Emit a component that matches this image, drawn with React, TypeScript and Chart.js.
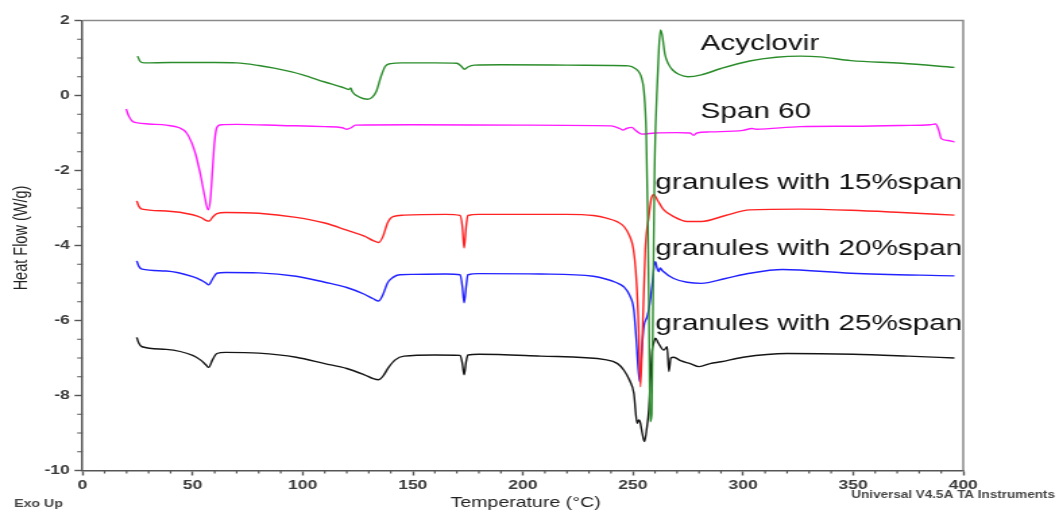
import React, { useEffect, useRef } from 'react';
import { Chart, registerables } from 'chart.js';

Chart.register(...registerables);

// ---------- data (temperature °C, heat flow W/g) ----------
const acyclovirT = [25, 26, 28, 40, 60, 70, 80, 87, 95, 100, 110, 118, 121, 121.8, 122.5, 126, 129.5, 131.5, 133.5, 135.5, 137.5, 140, 145, 160, 170, 172, 173.5, 175, 178, 190, 220, 240, 248, 251, 253, 254, 255, 256, 256.8, 257.3, 257.8, 258.5, 259.2, 259.8, 260.8, 261.8, 262.5, 263.3, 264.5, 266, 268, 271, 275, 281, 290, 303, 315, 326, 335, 349, 372, 396];
const acyclovirH = [1.05, 0.92, 0.87, 0.88, 0.88, 0.87, 0.8, 0.73, 0.63, 0.55, 0.36, 0.22, 0.16, 0.2, 0.1, -0.05, -0.1, -0.05, 0.12, 0.5, 0.78, 0.85, 0.87, 0.87, 0.86, 0.78, 0.7, 0.76, 0.81, 0.82, 0.81, 0.8, 0.79, 0.72, 0.6, 0.45, 0.1, -1.0, -3.5, -6.0, -8.7, -8.5, -5.0, -2.0, 0.0, 1.3, 1.75, 1.6, 1.1, 0.85, 0.68, 0.56, 0.5, 0.55, 0.72, 0.92, 1.02, 1.05, 1.03, 0.93, 0.86, 0.75];

const span60T = [19.8, 21, 22.5, 25, 30, 38, 44, 47, 49.5, 51.5, 53.5, 55.5, 57, 58, 59, 60, 61, 63, 70, 90, 110, 118, 120, 122, 124, 150, 200, 240, 244, 245.5, 247, 249.5, 251, 254, 260, 270, 276, 277.5, 279, 285, 300, 304, 306, 326, 350, 372, 385, 387.5, 389, 390, 393, 396];
const span60H = [-0.36, -0.55, -0.68, -0.73, -0.76, -0.79, -0.86, -0.98, -1.25, -1.6, -2.1, -2.7, -3.05, -2.8, -2.0, -1.2, -0.85, -0.78, -0.77, -0.8, -0.83, -0.86, -0.9, -0.86, -0.79, -0.78, -0.79, -0.81, -0.88, -0.92, -0.88, -0.85, -0.92, -1.03, -1.0, -0.99, -1.0, -1.06, -1.0, -0.97, -0.93, -0.88, -0.9, -0.83, -0.82, -0.8, -0.78, -0.76, -0.95, -1.15, -1.2, -1.24];

const span15T = [24.6, 25.5, 27, 38, 50, 54, 56, 57.5, 59, 61, 65, 80, 97, 110, 120, 128, 132, 134.5, 136.5, 138.5, 141, 146, 165, 171.5, 172.5, 173.3, 174.2, 175, 180, 220, 232, 238, 243, 246, 248.5, 250.2, 251.3, 252.3, 253.4, 254.5, 255.6, 257.2, 258.3, 259.5, 261, 264, 268.5, 274.6, 281, 292, 303, 326, 349, 372, 396];
const span15H = [-2.81, -2.95, -3.03, -3.08, -3.18, -3.26, -3.33, -3.35, -3.25, -3.15, -3.12, -3.14, -3.25, -3.4, -3.59, -3.75, -3.87, -3.92, -3.75, -3.4, -3.23, -3.19, -3.17, -3.2, -3.5, -4.07, -3.5, -3.2, -3.17, -3.17, -3.2, -3.27, -3.37, -3.5, -3.75, -4.1, -4.7, -5.8, -7.77, -6.0, -4.1, -3.23, -2.75, -2.64, -2.78, -3.05, -3.23, -3.36, -3.36, -3.2, -3.05, -3.03, -3.06, -3.12, -3.19];

const span20T = [24.6, 25.5, 27, 38, 50, 54, 56, 57.3, 59, 61, 65, 80, 97, 110, 120, 128, 132, 134.5, 136.5, 138.5, 141, 144, 150, 165, 171.5, 172.5, 173.3, 174.2, 175, 180, 208, 232, 238, 242, 245.8, 248.5, 250.4, 251.5, 253, 254, 254.9, 256.4, 257.5, 258.8, 259.7, 260.2, 260.9, 261.7, 262.3, 263.5, 268.5, 274.6, 281, 292, 303, 318, 349, 396];
const span20H = [-4.41, -4.55, -4.63, -4.68, -4.83, -4.93, -5.0, -5.05, -4.9, -4.74, -4.72, -4.73, -4.82, -4.98, -5.12, -5.3, -5.42, -5.48, -5.3, -5.0, -4.85, -4.78, -4.77, -4.76, -4.78, -5.1, -5.53, -5.1, -4.78, -4.75, -4.76, -4.82, -4.9, -4.98, -5.1, -5.33, -5.72, -6.5, -7.63, -6.8, -6.17, -5.9, -5.6, -5.0, -4.5, -4.43, -4.6, -4.7, -4.6, -4.68, -4.88, -4.98, -5.01, -4.88, -4.74, -4.64, -4.74, -4.81];

const span25T = [24.6, 25.5, 27, 38, 50, 53.5, 56, 57.3, 59, 61, 65, 80, 97, 110, 120, 128, 132, 134.5, 136.5, 139, 142, 146, 160, 171.5, 172.5, 173.3, 174.2, 175, 180, 208, 238, 243, 245.8, 248.5, 250.4, 251.9, 252.6, 253.2, 254.2, 255.2, 256.2, 257.2, 258, 258.7, 259.4, 260.2, 261.5, 264, 265.5, 266.3, 267.2, 268.5, 271.6, 276, 280, 285, 290, 300, 320, 350, 375, 396];
const span25H = [-6.45, -6.6, -6.7, -6.77, -6.93, -7.05, -7.18, -7.25, -7.05, -6.88, -6.85, -6.87, -6.98, -7.15, -7.28, -7.45, -7.55, -7.58, -7.48, -7.25, -7.05, -6.95, -6.92, -6.93, -7.15, -7.45, -7.1, -6.92, -6.9, -6.95, -7.05, -7.15, -7.32, -7.6, -7.94, -8.74, -8.65, -8.7, -9.0, -9.23, -8.9, -8.39, -7.5, -6.79, -6.6, -6.47, -6.6, -6.79, -6.7, -7.36, -7.0, -6.98, -7.07, -7.15, -7.23, -7.15, -7.1, -6.98, -6.88, -6.9, -6.95, -7.0];

const seriesNames = ['Acyclovir', 'Span 60', 'granules with 15%span', 'granules with 20%span', 'granules with 25%span'];
const seriesColors = ['#2a8c2a', '#ff1aff', '#ff2222', '#2222ff', '#151515'];

// annotation labels (data coordinates of left/baseline)
const labelTexts = ['Acyclovir', 'Span 60', 'granules with 15%span', 'granules with 20%span', 'granules with 25%span'];
const labelX = [280.7, 280.7, 260.2, 260.2, 260.2];
const labelY = [1.21, -0.61, -2.5, -4.25, -6.25];

const xMin = 0, xMax = 400, xStep = 50, xMinorStep = 10;
const yMin = -10, yMax = 2, yStep = 2, yMinorStep = 0.5;

const CANVAS_W = 785;
const CANVAS_H = 513;
const FONT = '"Liberation Sans", Arial, Helvetica, sans-serif';

function pts(t: number[], h: number[]) {
  return t.map((x, i) => ({ x, y: h[i] }));
}

const overlayPlugin = {
  id: 'dscOverlay',
  afterDraw(chart: any) {
    const { ctx, chartArea: a, scales } = chart;
    const xs = scales.x;
    const ys = scales.y;
    ctx.save();
    // frame top/right
    ctx.strokeStyle = '#8a8a8a';
    ctx.lineWidth = 1.5;
    ctx.beginPath();
    ctx.moveTo(a.left, a.top);
    ctx.lineTo(a.right, a.top);
    ctx.lineTo(a.right, a.bottom);
    ctx.stroke();
    // minor ticks
    ctx.strokeStyle = '#555';
    ctx.lineWidth = 1.2;
    ctx.beginPath();
    for (let v = yMin; v <= yMax + 1e-9; v += yMinorStep) {
      if (Math.abs(v / yStep - Math.round(v / yStep)) < 1e-6) continue;
      const p = ys.getPixelForValue(v);
      ctx.moveTo(a.left, p);
      ctx.lineTo(a.left - 4, p);
    }
    for (let v = xMin; v <= xMax + 1e-9; v += xMinorStep) {
      if (Math.abs(v / xStep - Math.round(v / xStep)) < 1e-6) continue;
      const p = xs.getPixelForValue(v);
      ctx.moveTo(p, a.bottom);
      ctx.lineTo(p, a.bottom + 3);
    }
    ctx.stroke();

    // curve annotations
    ctx.fillStyle = '#111';
    ctx.font = `22px ${FONT}`;
    ctx.textAlign = 'left';
    ctx.textBaseline = 'alphabetic';
    labelTexts.forEach((t, i) => {
      ctx.fillText(t, xs.getPixelForValue(labelX[i]), ys.getPixelForValue(labelY[i]));
    });

    // axis titles
    ctx.fillStyle = '#222';
    ctx.font = `14.5px ${FONT}`;
    ctx.textAlign = 'center';
    ctx.textBaseline = 'middle';
    ctx.fillText('Temperature (°C)', (a.left + a.right) / 2 + 2, 503);
    ctx.save();
    ctx.translate(15.6, 238);
    ctx.rotate(-Math.PI / 2);
    ctx.fillText('Heat Flow (W/g)', 0, 0);
    ctx.restore();

    // footer texts
    ctx.fillStyle = '#444';
    ctx.font = `bold 10.5px ${FONT}`;
    ctx.textBaseline = 'alphabetic';
    ctx.textAlign = 'left';
    ctx.fillText('Exo Up', 10.4, 506.5);
    ctx.font = `bold 10px ${FONT}`;
    ctx.textAlign = 'right';
    ctx.fillText('Universal V4.5A TA Instruments', 782, 497.5);
    ctx.restore();
  },
};

export default function App() {
  const ref = useRef<HTMLCanvasElement | null>(null);

  useEffect(() => {
    document.body.style.margin = '0';
    const canvas = ref.current;
    if (!canvas) return;
    const tList = [acyclovirT, span60T, span15T, span20T, span25T];
    const hList = [acyclovirH, span60H, span15H, span20H, span25H];
    const chart = new Chart(canvas, {
      type: 'line',
      data: {
        datasets: seriesNames.map((name, i) => ({
          label: name,
          data: pts(tList[i], hList[i]),
          borderColor: seriesColors[i],
          backgroundColor: seriesColors[i],
          borderWidth: 1.4,
          pointRadius: 0,
          fill: false,
          cubicInterpolationMode: 'monotone' as const,
        })),
      },
      options: {
        animation: false,
        responsive: false,
        devicePixelRatio: 1,
        parsing: false as any,
        layout: { padding: { top: 20.5, right: 71, left: 0, bottom: 0 } },
        plugins: {
          legend: { display: false },
          tooltip: { enabled: false },
        },
        scales: {
          x: {
            type: 'linear',
            min: xMin,
            max: xMax,
            ticks: {
              stepSize: xStep,
              color: '#3a3a3a',
              font: { family: FONT, size: 13, weight: 'bold' },
              padding: 2,
              maxRotation: 0,
            },
            grid: {
              display: true,
              drawOnChartArea: false,
              drawTicks: true,
              tickLength: 5,
              tickColor: '#555',
              tickWidth: 1.4,
            },
            border: { display: true, color: '#555', width: 1.5 },
            afterFit: (s: any) => {
              s.height = 42.5;
            },
          },
          y: {
            type: 'linear',
            min: yMin,
            max: yMax,
            ticks: {
              stepSize: yStep,
              color: '#3a3a3a',
              font: { family: FONT, size: 13, weight: 'bold' },
              padding: 3.5,
            },
            grid: {
              display: true,
              drawOnChartArea: false,
              drawTicks: true,
              tickLength: 6,
              tickColor: '#555',
              tickWidth: 1.4,
            },
            border: { display: true, color: '#555', width: 1.5 },
            afterFit: (s: any) => {
              s.width = 61.2;
            },
          },
        },
      },
      plugins: [overlayPlugin],
    });
    return () => chart.destroy();
  }, []);

  return (
    <div style={{ width: 1059, height: 513, position: 'relative', overflow: 'hidden', background: '#fff' }}>
      <canvas
        ref={ref}
        width={CANVAS_W}
        height={CANVAS_H}
        style={{ width: '1059px', height: '513px', display: 'block' }}
      />
    </div>
  );
}
